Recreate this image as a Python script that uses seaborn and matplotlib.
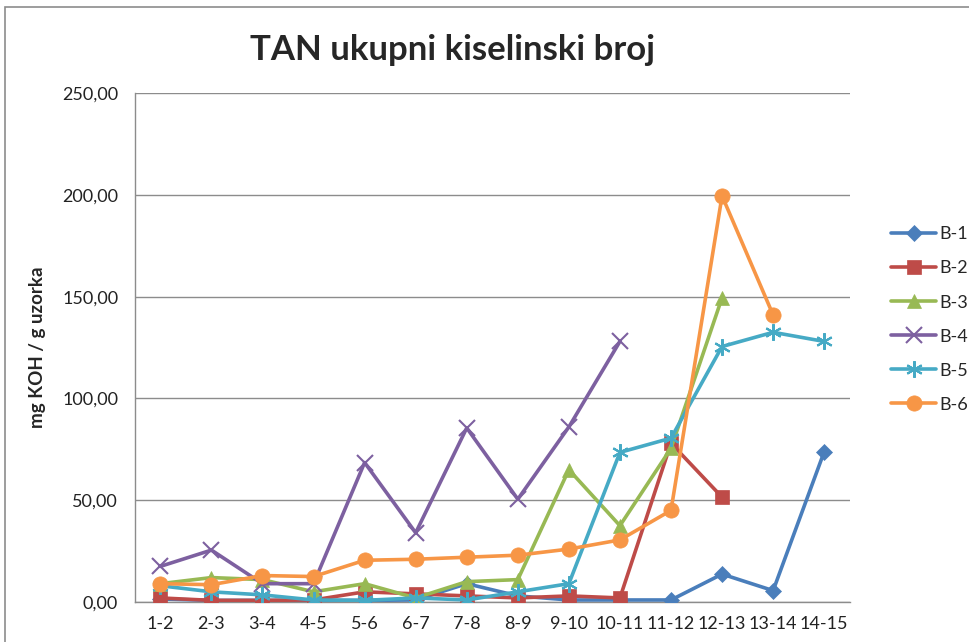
import numpy as np
import pandas as pd
import seaborn as sns
import matplotlib.pyplot as plt
import matplotlib.patches as mpatches
from matplotlib.ticker import FuncFormatter, FixedLocator

# Kategorije (uzorci)
periods = ['1-2', '2-3', '3-4', '4-5', '5-6', '6-7', '7-8', '8-9', '9-10',
           '10-11', '11-12', '12-13', '13-14', '14-15']

# Vrijednosti po seriji (mg KOH / g uzorka)
b1 = [1.5, 0.8, 0.8, 0.8, 0.8, 1.0, 9.0, 3.0, 1.0, 1.0, 1.0, 13.7, 5.6, 73.8]
b2 = [2.0, 0.8, 0.8, 1.0, 5.0, 4.0, 3.0, 2.0, 3.0, 2.0, 78.0, 51.5]
b3 = [9.0, 12.0, 11.0, 5.0, 9.0, 2.0, 10.0, 11.0, 65.0, 37.5, 75.5, 149.5]
b4 = [17.5, 25.5, 9.0, 9.0, 68.5, 34.0, 85.5, 50.5, 86.0, 128.0]
b5 = [8.0, 5.0, 3.5, 1.0, 0.8, 2.0, 1.0, 5.0, 9.0, 73.5, 80.5, 125.5, 132.5, 128.0]
b6 = [9.0, 8.5, 13.0, 12.5, 20.5, 21.0, 22.0, 23.0, 26.0, 30.5, 45.0, 199.5, 141.0]

series = {'B-1': b1, 'B-2': b2, 'B-3': b3, 'B-4': b4, 'B-5': b5, 'B-6': b6}
colors = ['#4A7EBB', '#BE4B48', '#98B954', '#7D60A0', '#46AAC5', '#F79646']
markers = ['D', 's', '^', 'x', (6, 2, 0), 'o']
msizes = [8, 10, 10, 11, 12, 11]

rows = []
for name, vals in series.items():
    for i, v in enumerate(vals):
        rows.append({'pos': i, 'val': v, 'serija': name})
df = pd.DataFrame(rows)

sns.set_style("white")
plt.rcParams['font.family'] = ['Lato', 'DejaVu Sans']

fig = plt.figure(figsize=(9.7, 6.42), dpi=100)
ax = fig.add_axes([0.139, 0.0623, 0.737, 0.7927])

for (name, _), c, m, ms in zip(series.items(), colors, markers, msizes):
    sub = df[df.serija == name]
    mew = 1.5 if m in ('x', (6, 2, 0)) else 0.5
    sns.lineplot(data=sub, x='pos', y='val', ax=ax, color=c, marker=m,
                 markersize=ms, markeredgewidth=mew, markeredgecolor=c,
                 linewidth=2.6, label=name, zorder=3)

ax.set_xlim(-0.5, len(periods) - 0.5)
ax.set_ylim(0, 250)
ax.yaxis.set_major_locator(FixedLocator([0, 50, 100, 150, 200, 250]))
ax.yaxis.set_major_formatter(FuncFormatter(lambda v, p: f'{v:.2f}'.replace('.', ',')))
ax.grid(axis='y', color='#8C8C8C', linewidth=1.0)
ax.set_axisbelow(True)

ax.set_xticks(range(len(periods)))
ax.set_xticklabels(periods)
ax.set_xticks(np.arange(-0.5, len(periods), 1), minor=True)
ax.tick_params(axis='x', which='major', length=0, pad=10, labelsize=13, colors='#222222')
ax.tick_params(axis='x', which='minor', length=6, width=1, color='#8C8C8C', direction='out')
ax.tick_params(axis='y', length=6, width=1, color='#8C8C8C', direction='out',
               pad=6, labelsize=13, colors='#222222')

for s in ['top', 'right']:
    ax.spines[s].set_visible(False)
for s in ['left', 'bottom']:
    ax.spines[s].set_color('#8C8C8C')
    ax.spines[s].set_linewidth(1.0)

ax.set_xlabel('')
ax.set_ylabel('mg KOH / g uzorka', fontsize=13.5, weight='bold')
ax.yaxis.set_label_coords(-0.124, 0.5)
fig.text(0.466, 0.922, 'TAN ukupni kiselinski broj', fontsize=25, weight='bold',
         ha='center', va='center')

ax.legend(loc='upper left', bbox_to_anchor=(1.035, 0.77), frameon=False,
          fontsize=13, handlelength=2.5, labelspacing=1.0, handletextpad=0.2)

# okvir grafikona
fig.patches.append(mpatches.Rectangle((5 / 970, -0.1), 1.2, 1 - 7 / 642 + 0.1,
                                      transform=fig.transFigure, fill=False,
                                      edgecolor='#8C8C8C', linewidth=1.2))

fig.savefig('out.png', dpi=100)
